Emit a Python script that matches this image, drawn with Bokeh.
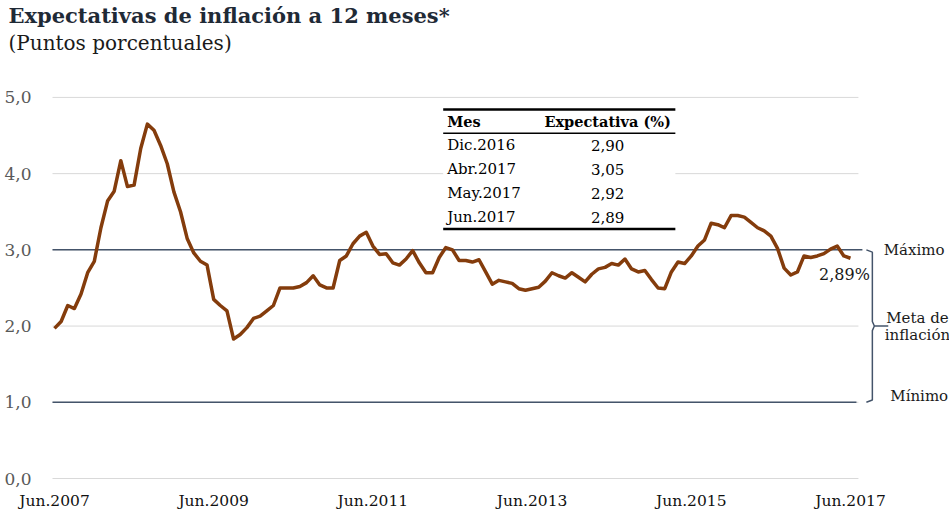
from bokeh.plotting import figure
from bokeh.models import Range1d, FixedTicker, Title
from bokeh.embed import file_html
from bokeh.resources import INLINE
from bokeh.core.properties import value

# ---------------- data ----------------
mes_abbr = ["Ene", "Feb", "Mar", "Abr", "May", "Jun", "Jul", "Ago", "Sep", "Oct", "Nov", "Dic"]
start_year, start_month, n_months = 2007, 6, 121
months = []
for k in range(n_months):
    mm = (start_month - 1 + k) % 12
    yy = start_year + (start_month - 1 + k) // 12
    months.append(f"{mes_abbr[mm]}.{yy}")

expectativa = [
    1.97, 2.06, 2.27, 2.23, 2.42, 2.70, 2.85,                                   # 2007 Jun-Dic
    3.29, 3.64, 3.77, 4.17, 3.83, 3.85, 4.33, 4.65, 4.57, 4.37, 4.13, 3.76,     # 2008
    3.50, 3.15, 2.96, 2.85, 2.80, 2.35, 2.27, 2.20, 1.83, 1.89, 1.98, 2.10,     # 2009
    2.13, 2.20, 2.27, 2.50, 2.50, 2.50, 2.52, 2.57, 2.66, 2.54, 2.50, 2.50,     # 2010
    2.86, 2.92, 3.08, 3.18, 3.23, 3.05, 2.94, 2.95, 2.83, 2.80, 2.88, 2.99,     # 2011
    2.83, 2.70, 2.70, 2.90, 3.03, 3.00, 2.86, 2.86, 2.84, 2.87, 2.71, 2.55,     # 2012
    2.60, 2.58, 2.56, 2.49, 2.47, 2.49, 2.51, 2.59, 2.70, 2.66, 2.63, 2.70,     # 2013
    2.64, 2.58, 2.68, 2.75, 2.77, 2.82, 2.80, 2.88, 2.75, 2.71, 2.73, 2.61,     # 2014
    2.50, 2.49, 2.71, 2.84, 2.82, 2.92, 3.05, 3.13, 3.35, 3.33, 3.29, 3.45,     # 2015
    3.45, 3.43, 3.36, 3.29, 3.25, 3.18, 3.02, 2.76, 2.67, 2.71, 2.92, 2.90,     # 2016
    2.92, 2.95, 3.01, 3.05, 2.92, 2.89,                                         # 2017 Ene-Jun
]

x_tick_labels = ["Jun.2007", "Jun.2009", "Jun.2011", "Jun.2013", "Jun.2015", "Jun.2017"]
y_ticks = [0, 1, 2, 3, 4, 5]
y_tick_labels = ["0,0", "1,0", "2,0", "3,0", "4,0", "5,0"]

meta_max = 3.0
meta_min = 1.0
meta_centro = 2.0

tabla_meses = ["Dic.2016", "Abr.2017", "May.2017", "Jun.2017"]
tabla_header = ["Mes", "Expectativa (%)"]

title_text = "Expectativas de inflación a 12 meses*"
subtitle_text = "(Puntos porcentuales)"

# ---------------- figure ----------------
FONT_NAME = "DejaVu Serif"
FONT = value(FONT_NAME)
x = list(range(len(months)))
last = len(months) - 1

p = figure(width=949, height=512, output_backend="svg", toolbar_location=None,
           x_range=Range1d(-2.11, last + 14.93), y_range=Range1d(-0.013, 5.55),
           min_border_left=40, min_border_right=0, min_border_bottom=28, min_border_top=10,
           title=None)
p.outline_line_color = None
p.grid.visible = False
p.background_fill_color = "white"
p.border_fill_color = "white"

p.add_layout(Title(text=subtitle_text, text_font=FONT_NAME, text_font_size="20px",
                   text_font_style="normal", text_color="#1a1a1a", align="left",
                   offset=-32, standoff=2), "above")
p.add_layout(Title(text=title_text, text_font=FONT_NAME, text_font_size="21px",
                   text_font_style="bold", text_color="#1f2a36", align="left",
                   offset=-32, standoff=0), "above")

# axes
p.yaxis.ticker = FixedTicker(ticks=y_ticks)
p.yaxis.major_label_overrides = {t: l for t, l in zip(y_ticks, y_tick_labels)}
p.yaxis.major_label_text_color = "#595959"
p.yaxis.major_label_text_font = FONT_NAME
p.yaxis.major_label_text_font_size = "17px"
p.yaxis.major_label_standoff = 3

x_ticks = [months.index(l) for l in x_tick_labels]
p.xaxis.ticker = FixedTicker(ticks=x_ticks)
p.xaxis.major_label_overrides = {t: l for t, l in zip(x_ticks, x_tick_labels)}
p.xaxis.major_label_text_color = "#111111"
p.xaxis.major_label_text_font = FONT_NAME
p.xaxis.major_label_text_font_size = "15.5px"
p.xaxis.major_label_standoff = 6

for ax in (p.xaxis, p.yaxis):
    ax.axis_line_color = None
    ax.major_tick_line_color = None
    ax.minor_tick_line_color = None

# gridlines
gx0, gx1 = -0.3, last + 1.2
p.segment(x0=gx0, x1=gx1, y0=y_ticks, y1=y_ticks, line_color="#d9d9d9", line_width=1)

# inflation target band lines
p.segment(x0=[gx0], x1=[last + 1.8], y0=[meta_max], y1=[meta_max], line_color="#44546a", line_width=1.5)
p.segment(x0=[gx0], x1=[last + 0.9], y0=[meta_min], y1=[meta_min], line_color="#44546a", line_width=1.5)

# bracket
bx = last + 3.3
p.line(x=[bx - 0.9, bx, bx, bx + 0.3, bx, bx, bx - 0.9],
       y=[meta_max, meta_max - 0.03, meta_centro + 0.06, meta_centro, meta_centro - 0.06, meta_min + 0.03, meta_min],
       line_color="#44546a", line_width=1.5)
p.segment(x0=[bx + 0.3], x1=[bx + 2.4], y0=[meta_centro], y1=[meta_centro], line_color="#44546a", line_width=1.5)

p.text(x=[last + 5.0], y=[meta_max], text=["Máximo"], text_font=FONT, text_font_size="15px",
       text_baseline="middle", text_align="left", text_color="#1a1a1a")
p.text(x=[last + 6.0], y=[meta_min + 0.08], text=["Mínimo"], text_font=FONT, text_font_size="15px",
       text_baseline="middle", text_align="left", text_color="#1a1a1a")
p.text(x=[last + 10.1, last + 10.1], y=[meta_centro + 0.11, meta_centro - 0.12],
       text=["Meta de", "inflación"], text_font=FONT, text_font_size="15px",
       text_baseline="middle", text_align="center", text_color="#1a1a1a")

# series
p.line(x=x, y=expectativa, line_color="#843c0c", line_width=3.5, line_join="round")

last_lbl = f"{expectativa[-1]:.2f}".replace(".", ",") + "%"
p.text(x=[last - 0.9], y=[expectativa[-1] - 0.21], text=[last_lbl], text_font=FONT,
       text_font_size="16px", text_baseline="middle", text_align="center", text_color="#1a1a1a")

# table
t_left, t_right = 58.6, 93.6
t_top, t_head, t_bottom = 4.843, 4.529, 3.272
row_h = (t_head - t_bottom) / len(tabla_meses)
p.quad(left=[t_left], right=[t_right], top=[t_top], bottom=[t_bottom], fill_color="white", line_color=None)
p.segment(x0=[t_left, t_left, t_left], x1=[t_right, t_right, t_right],
          y0=[t_top, t_head, t_bottom], y1=[t_top, t_head, t_bottom],
          line_color="black", line_width=[2.5, 1.5, 2.5])
col1_x = t_left + 0.6
col2_x = 83.4
head_y = (t_top + t_head) / 2
p.text(x=[col1_x], y=[head_y], text=[tabla_header[0]], text_font=FONT, text_font_size="14.5px",
       text_font_style="bold", text_baseline="middle", text_align="left", text_color="black")
p.text(x=[col2_x], y=[head_y], text=[tabla_header[1]], text_font=FONT, text_font_size="14.5px",
       text_font_style="bold", text_baseline="middle", text_align="center", text_color="black")
row_y = [t_head - row_h * (k + 0.5) for k in range(len(tabla_meses))]
tabla_vals = [f"{expectativa[months.index(mn)]:.2f}".replace(".", ",") for mn in tabla_meses]
p.text(x=[col1_x] * len(tabla_meses), y=row_y, text=tabla_meses, text_font=FONT, text_font_size="15px",
       text_baseline="middle", text_align="left", text_color="black")
p.text(x=[col2_x] * len(tabla_meses), y=row_y, text=tabla_vals, text_font=FONT, text_font_size="15px",
       text_baseline="middle", text_align="center", text_color="black")

open("out.html", "w").write(file_html(p, INLINE))
